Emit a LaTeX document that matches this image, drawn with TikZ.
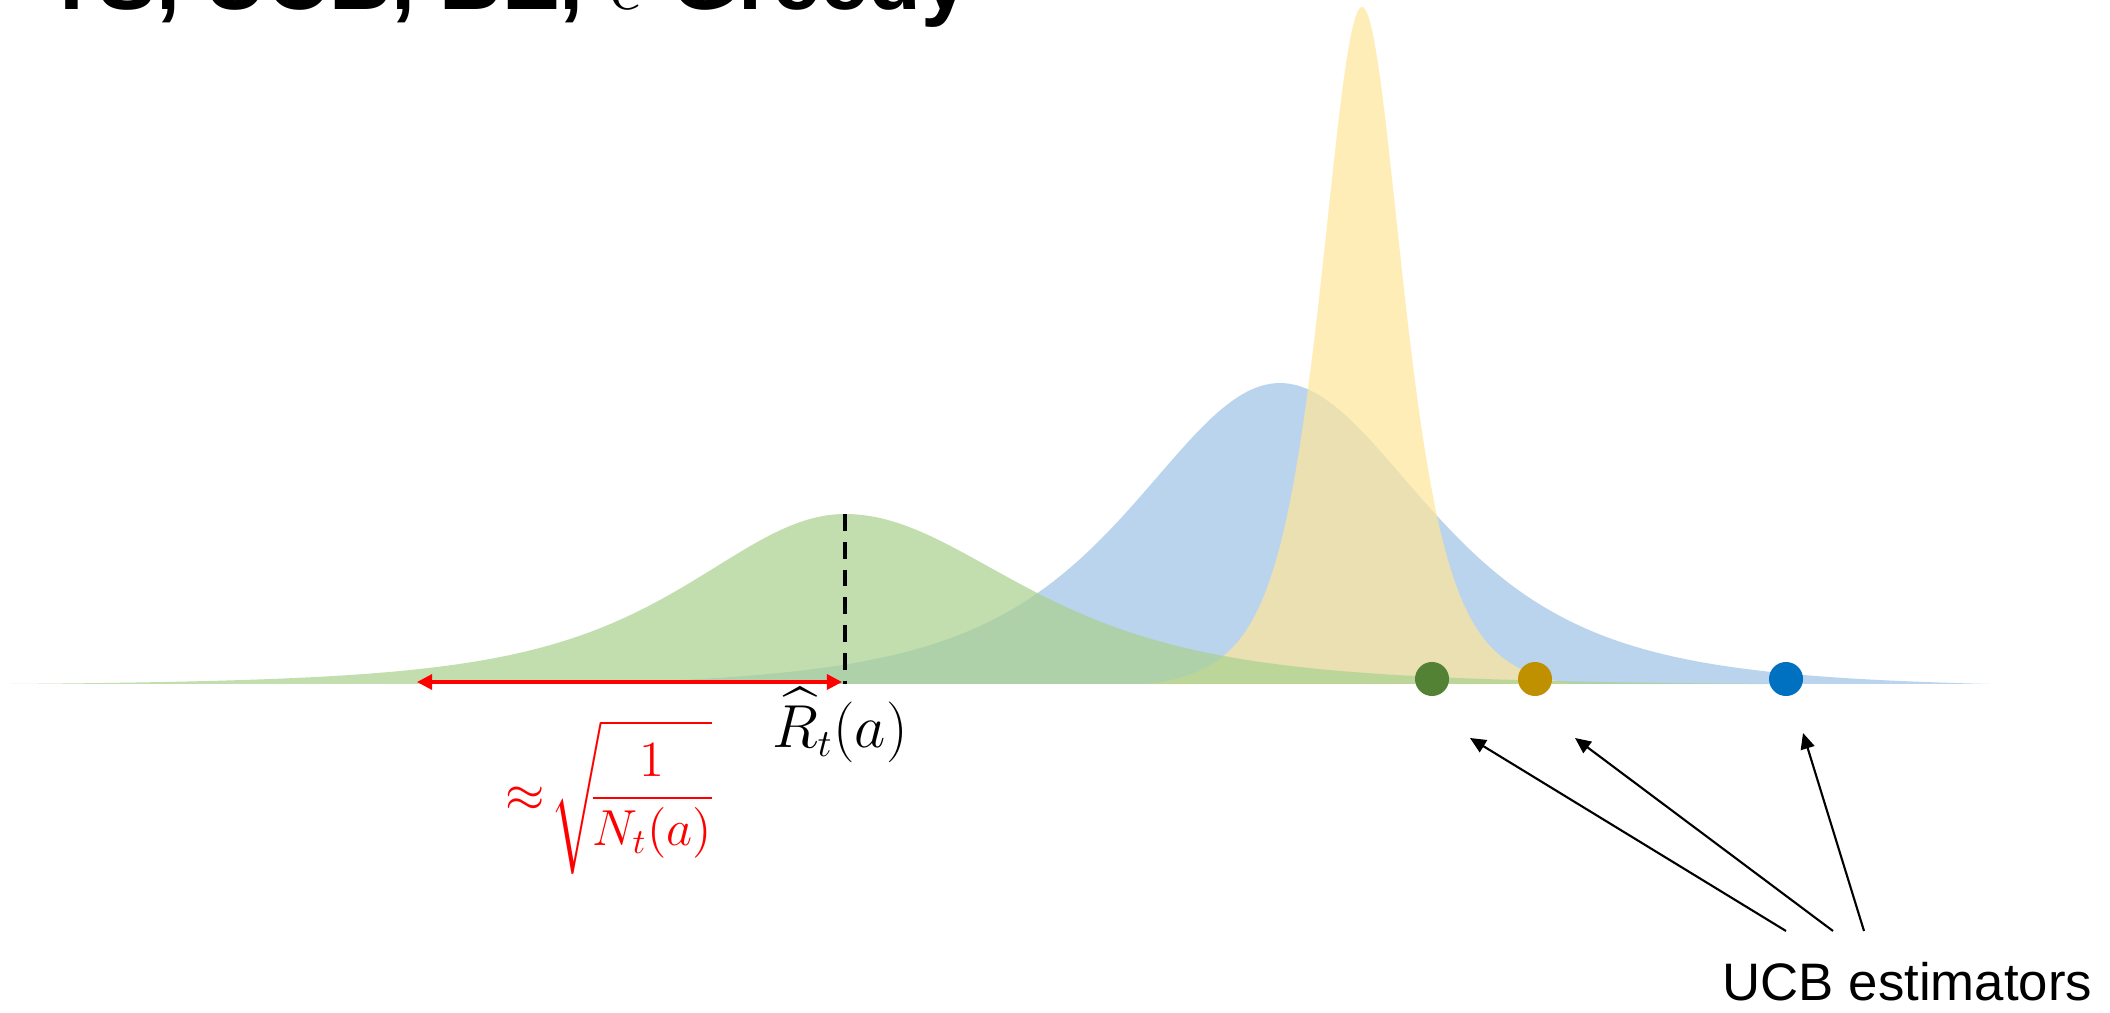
\documentclass[tikz,border=0pt]{standalone}
\usepackage{amsmath}
\usepackage{fontspec}
\newfontfamily\arialf{Liberation Sans}
\usetikzlibrary{arrows.meta}
\definecolor{gfill}{HTML}{A9D18E}
\definecolor{bfill}{HTML}{9DC3E6}
\definecolor{yfill}{HTML}{FFE699}
\definecolor{gdot}{HTML}{548235}
\definecolor{ydot}{HTML}{BF9000}
\definecolor{bdot}{HTML}{0070C0}
\begin{document}
\begin{tikzpicture}[x=0.01cm, y=-0.01cm,
  declare function={tt(\v)=1/((1+\v*\v/3)^2);},
  dens/.style={fill opacity=0.7},
  estdot/.style={circle, inner sep=0pt, minimum size=0.34cm},
  ucbarrow/.style={-{Triangle[length=4.5pt,width=4pt]}, line width=0.6pt},
  sdarrow/.style={{Triangle[length=4.3pt,width=4.3pt]}-{Triangle[length=4.3pt,width=4.3pt]}, red, line width=0.9pt},
  meanline/.style={line width=1.15pt, dash pattern=on 4.8pt off 3.1pt},
  lbl/.style={inner sep=0pt}]
\useasboundingbox (0,0) rectangle (2110,1013);
\fill[white] (0,0) rectangle (2110,1013);
\clip (0,0) rectangle (2110,1013);
% title (cut by the top edge)
\node[lbl, anchor=base west, font=\arialf\bfseries\fontsize{24.6}{28}\selectfont] (title) at (45,10) {TS, UCB, BE, $\epsilon$-Greedy};
% densities
\fill[bfill, dens] plot[domain=570:1990, samples=400] (\x, {684 - 301*(tt((\x-1280)/158) - 0.0167)/0.9833}) -- cycle;
\fill[yfill, dens] plot[domain=1150:1574, samples=400] (\x, {684 - 677*(tt((\x-1362)/44) - 0.0131)/0.9869}) -- cycle;
\fill[gfill, dens] plot[domain=10:1776, samples=450] (\x, {684 - 170*(tt((\x-845)/ifthenelse(\x<845,166,185)) - 0.0112)/0.9888}) -- cycle;
% mean and spread
\coordinate (mtop) at (845,514);
\coordinate (mbot) at (845,684);
\draw[meanline] (mtop) -- (mbot);
\coordinate (sl) at (417,682);
\coordinate (sr) at (842,682);
\draw[sdarrow] (sl) -- (sr);
\node[lbl, anchor=base, font=\fontsize{16}{19}\selectfont] (rhat) at (840,747) {$\widehat{R}_t(a)$};
\node[lbl, anchor=west, text=red, font=\fontsize{14}{17}\selectfont] (bound) at (505,797) {\nulldelimiterspace=0pt$\approx\!\sqrt{\!\dfrac{\rule{0pt}{1.0em}1}{\rule{0pt}{0.75em}N_t(a)\rule[-0.55em]{0pt}{0pt}}}$};
% estimators
\node[estdot, fill=gdot] (dg) at (1432,679) {};
\node[estdot, fill=ydot] (dy) at (1535,679) {};
\node[estdot, fill=bdot] (db) at (1786,679) {};
\node[lbl, anchor=base west, font=\arialf\fontsize{15}{18}\selectfont] (ucb) at (1722,1000) {UCB estimators};
\coordinate (t1) at (1786,931);
\coordinate (t2) at (1833,931);
\coordinate (t3) at (1864,931);
\coordinate (h1) at (1470,738);
\coordinate (h2) at (1575,738);
\coordinate (h3) at (1803,733);
\draw[ucbarrow] (t1) -- (h1);
\draw[ucbarrow] (t2) -- (h2);
\draw[ucbarrow] (t3) -- (h3);
\end{tikzpicture}
\end{document}
